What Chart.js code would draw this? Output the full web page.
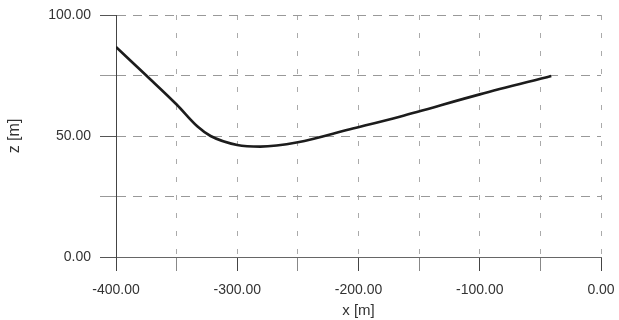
<!DOCTYPE html>
<html>
<head>
<meta charset="utf-8">
<script src="https://cdn.jsdelivr.net/npm/chart.js@4/dist/chart.umd.min.js"></script>
<style>
  html, body { margin: 0; padding: 0; background: #fff; }
  #wrap { width: 619px; height: 320px; }
</style>
</head>
<body>
<div id="wrap"><canvas id="myChart" width="619" height="320"></canvas></div>
<script>
// profile values
var xVals = [-400, -375, -350, -333, -322, -300, -281, -250, -207, -166, -100, -41];
var zVals = [86.8, 75.0, 63.0, 54.0, 50.0, 46.3, 45.6, 47.4, 52.8, 58.0, 67.2, 74.8];

var xTitle = "x [m]";
var zTitle = "z [m]";

window.onload = main;

function main() {
    var punts = [];
    for (var i = 0; i < xVals.length; i++) {
        punts.push({ x: xVals[i], y: zVals[i] });
    }

    var ctx = document.getElementById('myChart').getContext('2d');
    new Chart(ctx, {
        type: 'line',
        data: {
            datasets: [{
                data: punts,
                borderColor: '#1c1c1c',
                borderWidth: 2.6,
                pointRadius: 0,
                fill: false,
                cubicInterpolationMode: 'monotone'
            }]
        },
        options: {
            responsive: false,
            animation: false,
            layout: { padding: { top: 15, right: 18, left: 0, bottom: 0 } },
            plugins: { legend: { display: false }, tooltip: { enabled: false } },
            scales: {
                x: {
                    type: 'linear',
                    min: -400,
                    max: 0,
                    afterFit: function (s) {
                        s.height = 63;
                        s.paddingLeft = 0;
                        s.paddingRight = 0;
                    },
                    ticks: {
                        stepSize: 50,
                        autoSkip: false,
                        maxRotation: 0,
                        padding: 11,
                        color: '#333',
                        font: { family: 'Liberation Sans, Arial', size: 14 },
                        callback: function (v) { return v % 100 === 0 ? v.toFixed(2) : ''; }
                    },
                    grid: {
                        color: '#aaa',
                        lineWidth: 1,
                        tickLength: 14,
                        tickColor: function (c) { return c.tick && c.tick.value % 100 === 0 ? '#444' : '#888'; },
                        tickBorderDash: []
                    },
                    border: { display: true, color: '#666', width: 1, dash: [5, 13] },
                    title: {
                        display: true,
                        text: xTitle,
                        color: '#333',
                        font: { family: 'Liberation Sans, Arial', size: 15 },
                        padding: { top: 0, bottom: 0 }
                    }
                },
                y: {
                    min: 0,
                    max: 100,
                    afterFit: function (s) {
                        s.width = 116;
                        s.paddingTop = 0;
                        s.paddingBottom = 0;
                    },
                    ticks: {
                        stepSize: 25,
                        autoSkip: false,
                        padding: 9,
                        color: '#333',
                        font: { family: 'Liberation Sans, Arial', size: 14 },
                        callback: function (v) { return v % 50 === 0 ? v.toFixed(2) : ''; }
                    },
                    grid: {
                        color: '#999',
                        lineWidth: 1,
                        tickLength: 16,
                        tickColor: function (c) { return c.tick && c.tick.value % 50 === 0 ? '#555' : '#999'; },
                        tickBorderDash: []
                    },
                    border: { display: true, color: '#444', width: 1, dash: [9, 7] },
                    title: {
                        display: true,
                        text: zTitle,
                        color: '#333',
                        font: { family: 'Liberation Sans, Arial', size: 16 },
                        padding: { top: 5, bottom: 0 }
                    }
                }
            }
        }
    });
}
</script>
</body>
</html>
